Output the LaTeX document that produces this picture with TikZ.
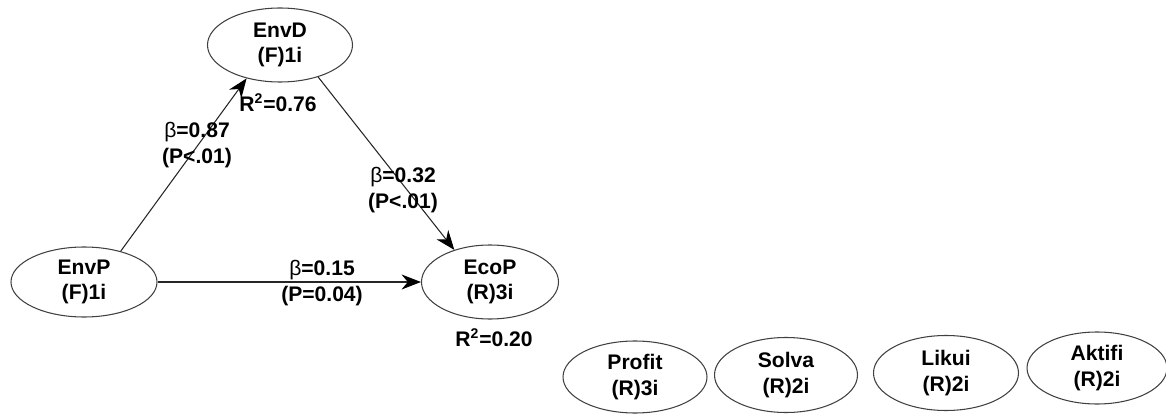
\documentclass[tikz,border=0pt]{standalone}
\usepackage{fontspec}
\setmainfont{Liberation Sans}
\usepackage{tikz}
\usetikzlibrary{shapes.geometric, arrows.meta, positioning}

\begin{document}
\begin{tikzpicture}[
    lv/.style={ellipse, draw=black!75, line width=0.6pt, inner sep=0pt,
               minimum width=2.9cm, minimum height=1.48cm,
               align=center, font=\fontsize{12}{14.5}\selectfont\bfseries},
    lbl/.style={align=center, inner sep=0pt, font=\fontsize{12}{14.5}\selectfont\bfseries},
    path/.style={draw=black!85, line width=0.6pt, -{Stealth[length=11pt,width=8.5pt,inset=3.5pt,color=black]}}
]
    \useasboundingbox (0,0) rectangle (23.32,8.28);

    % latent variables
    \node[lv] (envd) at (5.60,7.38) {EnvD\\(F)1i};
    \node[lv, minimum width=2.92cm, minimum height=1.4cm] (envp) at (1.68,2.64) {EnvP\\(F)1i};
    \node[lv, minimum width=2.74cm] (ecop) at (9.80,2.64) {EcoP\\(R)3i};

    % indicators of EcoP
    \node[lv, minimum width=2.88cm, minimum height=1.44cm] (profit) at (12.70,0.74) {Profit\\(R)3i};
    \node[lv, minimum width=2.86cm, minimum height=1.5cm] (solva) at (15.72,0.78) {Solva\\(R)2i};
    \node[lv, minimum height=1.5cm] (likui) at (18.92,0.82) {Likui\\(R)2i};
    \node[lv, minimum width=2.8cm, minimum height=1.44cm] (aktifi) at (21.94,0.92) {Aktifi\\(R)2i};

    % paths
    \draw[path] (envp.40) -- (envd.225);
    \draw[path] (envd.320) -- (ecop.138);
    \draw[path] (envp.east) -- (ecop.west);

    % coefficients
    \node[lbl] (b1) at (3.94,5.38) {{\mdseries β}=0.87\\(P<.01)};
    \node[lbl] (b2) at (8.06,4.48) {{\mdseries β}=0.32\\(P<.01)};
    \node[lbl] (b3) at (6.44,2.62) {{\mdseries β}=0.15\\(P=0.04)};
    \node[lbl] (r1) at (5.56,6.22) {R\textsuperscript{2}=0.76};
    \node[lbl] (r2) at (9.88,1.52) {R\textsuperscript{2}=0.20};
\end{tikzpicture}
\end{document}
